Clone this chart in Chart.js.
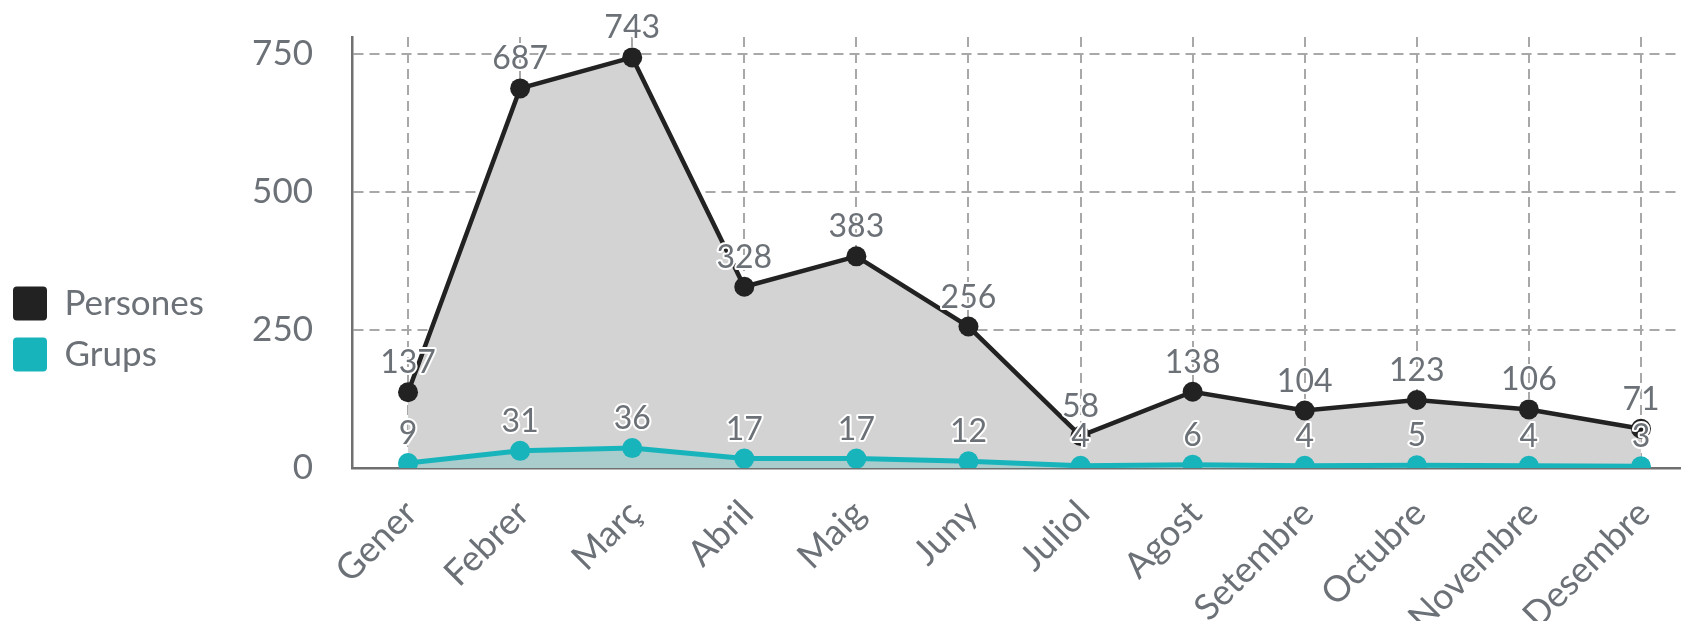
<!DOCTYPE html>
<html>
<head>
<meta charset="utf-8">
<script src="https://cdn.jsdelivr.net/npm/chart.js@4/dist/chart.umd.min.js"></script>
<style>
  html, body { margin: 0; padding: 0; background: #fff; overflow: hidden; }
  #wrap { width: 1707px; height: 621px; }
</style>
</head>
<body>
<div id="wrap"><canvas id="c" width="1707" height="621"></canvas></div>
<script>
const categories = ['Gener', 'Febrer', 'Març', 'Abril', 'Maig', 'Juny', 'Juliol', 'Agost', 'Setembre', 'Octubre', 'Novembre', 'Desembre'];
const persones = [137, 687, 743, 328, 383, 256, 58, 138, 104, 123, 106, 71];
const grups = [9, 31, 36, 17, 17, 12, 4, 6, 4, 5, 4, 3];
const seriesNames = ['Persones', 'Grups'];
const yTickValues = [0, 250, 500, 750];
const yMax = 780;

const GRAY = '#6c7177';
const FONT = 'Lato';
const PLOT_LEFT = 352;
const PLOT_BOTTOM = 468;
const CANVAS_H = 621;

const dataLabels = {
  id: 'dataLabels',
  afterLayout(chart) {
    if (chart.legend) { chart.legend.left -= 3; chart.legend.right -= 3; }
  },
  afterDatasetsDraw(chart) {
    const ctx = chart.ctx;
    ctx.save();
    ctx.font = '32px ' + FONT;
    ctx.textAlign = 'center';
    ctx.textBaseline = 'alphabetic';
    ctx.lineJoin = 'round';
    [0, 1].forEach(di => {
      const meta = chart.getDatasetMeta(di);
      const vals = chart.data.datasets[di].data;
      meta.data.forEach((pt, i) => {
        const x = pt.x, y = pt.y - 19;
        ctx.lineWidth = 4;
        ctx.strokeStyle = '#ffffff';
        ctx.strokeText(String(vals[i]), x, y);
        ctx.fillStyle = GRAY;
        ctx.fillText(String(vals[i]), x, y);
      });
    });
    ctx.restore();
  }
};

Chart.defaults.font.family = FONT;
Chart.defaults.color = GRAY;

new Chart(document.getElementById('c'), {
  type: 'line',
  data: {
    labels: categories,
    datasets: [
      {
        label: seriesNames[0],
        data: persones,
        borderColor: '#222222',
        backgroundColor: '#d3d3d3',
        fill: 'origin',
        borderWidth: 4.5,
        pointRadius: 10,
        pointHoverRadius: 10,
        pointBackgroundColor: '#222222',
        pointBorderWidth: 0,
        tension: 0,
        order: 2
      },
      {
        label: seriesNames[1],
        data: grups,
        borderColor: '#18b4bc',
        backgroundColor: 'rgba(24,180,188,0.22)',
        fill: 'origin',
        borderWidth: 5,
        pointRadius: 10,
        pointHoverRadius: 10,
        pointBackgroundColor: '#18b4bc',
        pointBorderWidth: 0,
        tension: 0,
        order: 1
      }
    ]
  },
  options: {
    responsive: false,
    animation: false,
    devicePixelRatio: 1,
    layout: { padding: { top: 37, right: 0, bottom: 0, left: 0 } },
    plugins: {
      tooltip: { enabled: false },
      legend: {
        position: 'left',
        labels: {
          boxWidth: 34,
          boxHeight: 34,
          padding: 16,
          color: GRAY,
          font: { size: 35, family: FONT },
          generateLabels(chart) {
            return chart.data.datasets.map((ds, i) => ({
              text: ds.label,
              fillStyle: ds.borderColor,
              strokeStyle: ds.borderColor,
              lineWidth: 0,
              fontColor: GRAY,
              borderRadius: 4,
              datasetIndex: i,
              hidden: false
            }));
          },
          useBorderRadius: true,
          borderRadius: 4
        }
      }
    },
    scales: {
      x: {
        type: 'category',
        offset: true,
        grid: {
          offset: false,
          color: '#a8a8a8',
          lineWidth: 2,
          drawTicks: false
        },
        border: { color: '#707070', width: 2.5, dash: [10, 6] },
        ticks: {
          maxRotation: 45,
          minRotation: 45,
          padding: 24,
          labelOffset: 3,
          color: GRAY,
          font: { size: 36, family: FONT }
        },
        afterFit(s) {
          s.height = CANVAS_H - PLOT_BOTTOM;
          s.paddingLeft = 0;
          s.paddingRight = 0;
        }
      },
      y: {
        min: 0,
        max: yMax,
        grid: {
          color: '#a8a8a8',
          lineWidth: 2,
          drawTicks: false
        },
        border: { color: '#707070', width: 2.5, dash: [10, 6] },
        afterBuildTicks(s) {
          s.ticks = yTickValues.map(v => ({ value: v }));
        },
        ticks: {
          padding: 39,
          color: GRAY,
          font: { size: 35, family: FONT }
        },
        afterFit(s) {
          const lw = (s.chart.legend && s.chart.legend.width) ? s.chart.legend.width : 0;
          s.width = PLOT_LEFT - lw;
          s.paddingTop = 0;
          s.paddingBottom = 0;
        }
      }
    }
  },
  plugins: [dataLabels]
});
</script>
</body>
</html>
